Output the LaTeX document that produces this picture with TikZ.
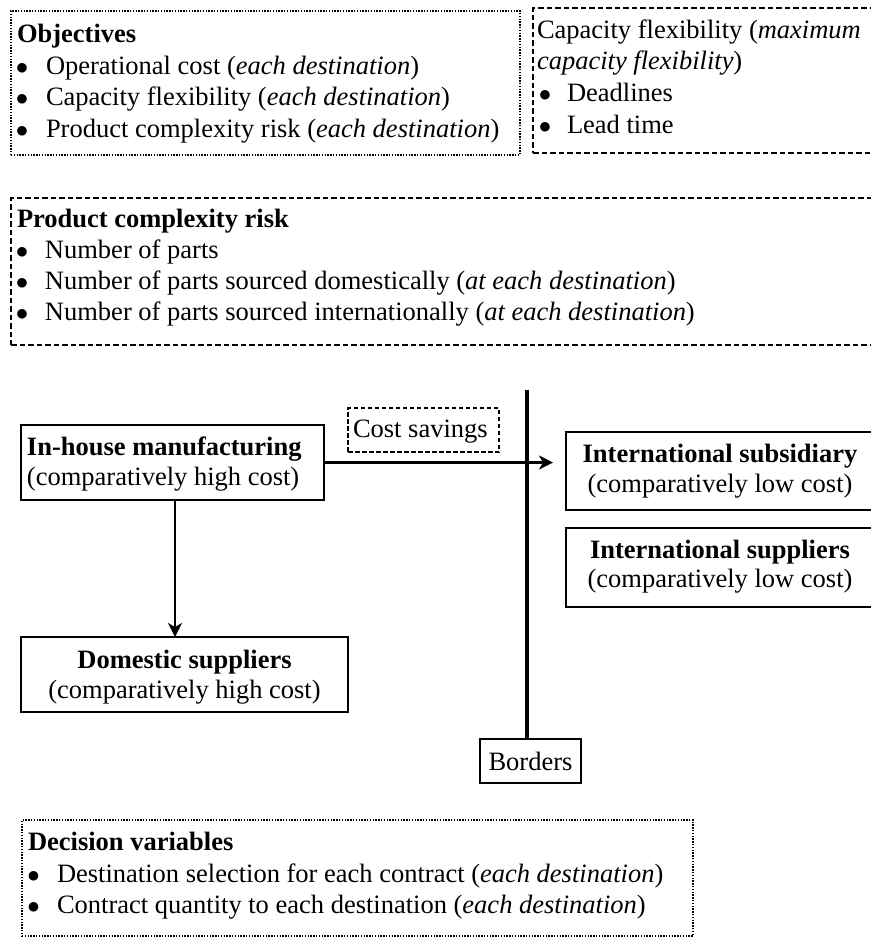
\documentclass[tikz,border=0pt]{standalone}
\usepackage{fontspec}
\setmainfont{Liberation Serif}
\usetikzlibrary{arrows.meta}
\newcommand\fs{\fontsize{26.5}{31.6}\selectfont}
\newcommand\blt{{\fontsize{25}{25}\selectfont$\bullet$}}
\tikzset{
  txt/.style={inner sep=0pt, outer sep=0pt, font=\fs},
  lt/.style={txt, anchor=base west},
  ct/.style={txt, anchor=base},
  frame/.style={inner sep=0pt, outer sep=0pt, anchor=north west},
  solidbox/.style={frame, draw, line width=2.4pt},
  dottedbox/.style={frame, draw, line width=1.6pt, dash pattern=on 1.4pt off 1.4pt},
  dashedbox/.style={frame, draw, line width=1.6pt, dash pattern=on 5.5pt off 3pt},
  smalldash/.style={frame, draw, line width=1.6pt, dash pattern=on 4.5pt off 2.5pt},
  arr/.style={line width=2.2pt, -{Stealth[length=14pt, width=14pt, inset=4pt]}},
  border/.style={line width=4pt},
}
\begin{document}
\begin{tikzpicture}[x=1pt, y=-1pt]
\useasboundingbox[fill=white] (0,0) rectangle (871,938);

% ---------- Objectives ----------
\node[dottedbox, minimum width=509, minimum height=144] (obj) at (11,11) {};
\node[lt] (objT) at (17,42) {\textbf{Objectives}};
\node[ct] (objB1) at (22,74) {\blt};
\node[lt] (obj1) at (46,74) {Operational cost (\textit{each destination})};
\node[ct] (objB2) at (22,105.5) {\blt};
\node[lt] (obj2) at (46,105.5) {Capacity flexibility (\textit{each destination})};
\node[ct] (objB3) at (22,137) {\blt};
\node[lt] (obj3) at (46,137) {Product complexity risk (\textit{each destination})};

% ---------- Capacity flexibility ----------
\node[dashedbox, minimum width=345, minimum height=145] (cap) at (533,8) {};
\node[lt] (capT1) at (537,38) {Capacity flexibility (\textit{maximum}};
\node[lt] (capT2) at (537,69.5) {\textit{capacity flexibility})};
\node[ct] (capB1) at (545,101) {\blt};
\node[lt] (cap1) at (567,101) {Deadlines};
\node[ct] (capB2) at (545,133) {\blt};
\node[lt] (cap2) at (567,133) {Lead time};

% ---------- Product complexity risk ----------
\node[dashedbox, minimum width=867, minimum height=147] (prod) at (11,198) {};
\node[lt] (prodT) at (17,227) {\textbf{Product complexity risk}};
\node[ct] (prodB1) at (22,258.5) {\blt};
\node[lt] (prod1) at (45,258.5) {Number of parts};
\node[ct] (prodB2) at (22,289.5) {\blt};
\node[lt] (prod2) at (45,289.5) {Number of parts sourced domestically (\textit{at each destination})};
\node[ct] (prodB3) at (22,320.5) {\blt};
\node[lt] (prod3) at (45,320.5) {Number of parts sourced internationally (\textit{at each destination})};

% ---------- Middle diagram ----------
\node[solidbox, minimum width=303, minimum height=75] (inhouse) at (21,425) {};
\node[lt] (inhouseT1) at (27,455) {\textbf{In-house manufacturing}};
\node[lt] (inhouseT2) at (27,485) {(comparatively high cost)};

\node[smalldash, minimum width=151, minimum height=44, line width=1.4pt] (cost) at (348,408) {};
\node[lt] (costT) at (353,437) {Cost savings};

\node[solidbox, minimum width=308, minimum height=78] (sub) at (566,432) {};
\node[ct] (subT1) at (720,462) {\textbf{International subsidiary}};
\node[ct] (subT2) at (720,492) {(comparatively low cost)};

\node[solidbox, minimum width=308, minimum height=79] (sup) at (566,528) {};
\node[ct] (supT1) at (720,558) {\textbf{International suppliers}};
\node[ct] (supT2) at (720,587.5) {(comparatively low cost)};

\node[solidbox, minimum width=327, minimum height=75] (dom) at (21,637) {};
\node[ct] (domT1) at (184.5,668) {\textbf{Domestic suppliers}};
\node[ct] (domT2) at (184.5,698) {(comparatively high cost)};

\node[solidbox, minimum width=101, minimum height=44, line width=2pt] (bord) at (480,739) {};
\node[ct] (bordT) at (530.5,770) {Borders};

\coordinate (ltop) at (527,390);
\draw[border] (ltop) -- (ltop |- bord.north);

\draw[arr, shorten >=13pt] (inhouse.east) -- (inhouse.east -| sub.west);
\draw[arr] ([xshift=2.5pt]inhouse.south) -- ([xshift=2.5pt]inhouse.south |- dom.north);

% ---------- Decision variables ----------
\node[dottedbox, minimum width=671, minimum height=116] (dec) at (22,820) {};
\node[lt] (decT) at (28,850) {\textbf{Decision variables}};
\node[ct] (decB1) at (33.5,882) {\blt};
\node[lt] (dec1) at (57,882) {Destination selection for each contract (\textit{each destination})};
\node[ct] (decB2) at (33.5,913) {\blt};
\node[lt] (dec2) at (57,913) {Contract quantity to each destination (\textit{each destination})};
\end{tikzpicture}
\end{document}
